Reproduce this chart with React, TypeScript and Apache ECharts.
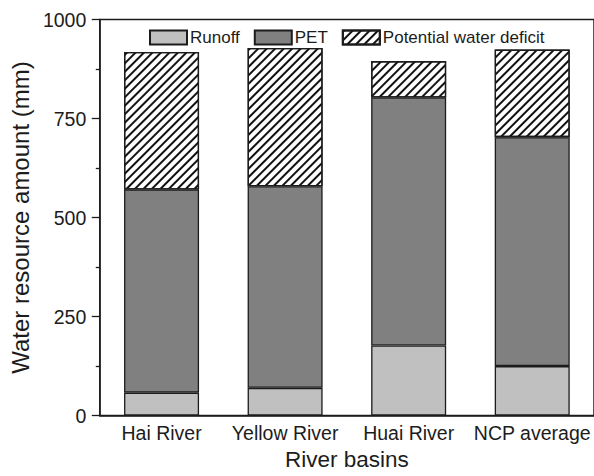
import React, { useEffect, useRef } from "react";
import * as echarts from "echarts";

const categories = ["Hai River", "Yellow River", "Huai River", "NCP average"];
const runoff = [58, 70, 177, 125];
const pet = [513, 509, 626, 578];
const deficit = [347, 349, 92, 221];
const seriesNames = ["Runoff", "PET", "Potential water deficit"];

const FONT = "Liberation Sans, Arial, Helvetica, sans-serif";
const INK = "#1c1c1c";

export default function App() {
  const ref = useRef<HTMLDivElement>(null);
  useEffect(() => {
    if (!ref.current) return;
    const chart = echarts.init(ref.current, null, { renderer: "svg" });
    const border = { borderColor: INK, borderWidth: 1.3 };
    chart.setOption({
      animation: false,
      textStyle: { fontFamily: FONT, color: INK },
      grid: {
        left: 93.5,
        right: -2,
        top: 19.5,
        bottom: 52.5,
        show: true,
        borderColor: INK,
        borderWidth: 1.5,
        backgroundColor: "transparent",
      },
      legend: {
        left: 144,
        top: 24,
        icon: "rect",
        itemWidth: 37,
        itemHeight: 14,
        itemGap: 14,
        textStyle: { fontFamily: FONT, fontSize: 17, color: INK, padding: [0, 0, 0, -2] },
        data: seriesNames,
      },
      xAxis: {
        type: "category",
        data: categories,
        boundaryGap: true,
        axisLine: { show: true, lineStyle: { color: INK, width: 1.5 } },
        axisTick: { show: false },
        axisLabel: {
          fontFamily: FONT,
          fontSize: 19.5,
          color: INK,
          margin: 7.5,
          interval: 0,
          hideOverlap: false,
        },
        name: "River basins",
        nameLocation: "middle",
        nameGap: 26,
        nameTextStyle: { fontFamily: FONT, fontSize: 22.5, color: INK },
      },
      yAxis: {
        type: "value",
        min: 0,
        max: 1000,
        interval: 250,
        axisLine: { show: true, lineStyle: { color: INK, width: 1.5 } },
        axisTick: { show: true, inside: false, length: 8, lineStyle: { color: INK, width: 1.3 } },
        minorTick: { show: true, splitNumber: 2, length: 4, lineStyle: { color: INK, width: 1.3 } },
        splitLine: { show: false },
        axisLabel: {
          fontFamily: FONT,
          fontSize: 19.5,
          color: INK,
          margin: 13.5,
          formatter: (v: number) => String(v),
        },
        name: "Water resource amount (mm)",
        nameLocation: "middle",
        nameGap: 63,
        nameTextStyle: { fontFamily: FONT, fontSize: 24, color: INK },
      },
      series: [
        {
          name: seriesNames[0],
          type: "bar",
          stack: "total",
          barWidth: 75,
          data: runoff,
          itemStyle: { color: "#c0c0c0", ...border },
        },
        {
          name: seriesNames[1],
          type: "bar",
          stack: "total",
          barWidth: 75,
          data: pet,
          itemStyle: { color: "#808080", ...border },
        },
        {
          name: seriesNames[2],
          type: "bar",
          stack: "total",
          barWidth: 75,
          data: deficit,
          itemStyle: {
            color: "#ffffff",
            ...border,
            decal: {
              symbol: "rect",
              symbolSize: 1,
              dashArrayX: [1, 0],
              dashArrayY: [1.1, 3.4],
              rotation: -Math.PI / 4,
              color: "#111111",
            },
          },
        },
      ],
    });
    return () => chart.dispose();
  }, []);
  return (
    <div
      ref={ref}
      style={{ position: "absolute", left: 0, top: 0, width: 594, height: 476, background: "#fff" }}
    />
  );
}
